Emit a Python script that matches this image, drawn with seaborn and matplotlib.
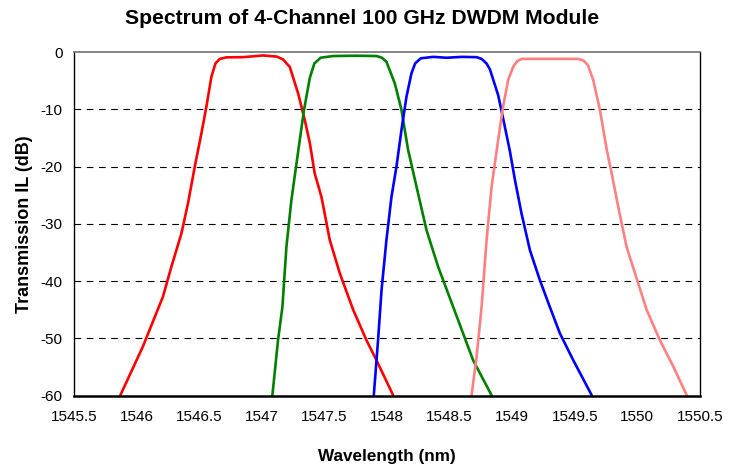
import pandas as pd
import seaborn as sns
import matplotlib.pyplot as plt

ch1_wl = [1545.871, 1546.051, 1546.211, 1546.278, 1546.358, 1546.411, 1546.465, 1546.518,
          1546.558, 1546.598, 1546.630, 1546.665, 1546.718, 1546.85, 1547.010, 1547.120,
          1547.170, 1547.224, 1547.290, 1547.344, 1547.384, 1547.423, 1547.477, 1547.543,
          1547.623, 1547.730, 1547.836, 1547.916, 1548.049]
ch1_il = [-59.9, -51.4, -42.7, -37.5, -31.7, -26.4, -20.0, -14.2,
          -9.5, -4.3, -2.0, -1.2, -0.93, -0.9, -0.6, -0.8,
          -1.3, -2.6, -7.2, -11.9, -15.9, -21.2, -25.3, -32.8,
          -38.6, -45.0, -50.3, -53.8, -59.9]

ch2_wl = [1547.085, 1547.130, 1547.165, 1547.197, 1547.237, 1547.290, 1547.336, 1547.384,
          1547.420, 1547.470, 1547.570, 1547.75, 1547.916, 1547.960, 1547.996, 1548.063,
          1548.116, 1548.169, 1548.236, 1548.316, 1548.409, 1548.529, 1548.688, 1548.835]
ch2_il = [-59.9, -50.3, -44.5, -34.0, -25.8, -17.5, -10.3, -4.5,
          -2.0, -1.0, -0.7, -0.65, -0.7, -1.0, -1.7, -5.5,
          -10.1, -17.1, -23.5, -31.1, -37.5, -44.5, -53.8, -59.9]

ch3_wl = [1547.895, 1547.929, 1547.957, 1547.996, 1548.036, 1548.076, 1548.116, 1548.156,
          1548.196, 1548.225, 1548.270, 1548.369, 1548.476, 1548.600, 1548.716, 1548.756,
          1548.795, 1548.822, 1548.888, 1548.928, 1548.982, 1549.022, 1549.075, 1549.142,
          1549.221, 1549.301, 1549.381, 1549.488, 1549.635]
ch3_il = [-59.9, -50.3, -41.5, -32.8, -25.3, -20.0, -13.6, -7.8,
          -3.7, -2.0, -1.1, -0.85, -1.0, -0.85, -0.9, -1.2,
          -2.0, -3.0, -7.5, -11.6, -17.3, -22.3, -28.2, -34.6,
          -39.8, -44.5, -49.1, -53.8, -59.9]

ch4_wl = [1548.676, 1548.716, 1548.756, 1548.796, 1548.836, 1548.888, 1548.928, 1548.968,
          1549.008, 1549.040, 1549.075, 1549.30, 1549.528, 1549.570, 1549.605, 1549.648,
          1549.701, 1549.756, 1549.795, 1549.847, 1549.914, 1549.981, 1550.074, 1550.180,
          1550.287, 1550.394]
ch4_il = [-59.9, -53.2, -44.5, -32.8, -23.5, -15.4, -9.5, -4.9,
          -2.6, -1.6, -1.2, -1.2, -1.2, -1.5, -2.3, -4.9,
          -10.1, -17.1, -21.2, -27.0, -34.0, -38.6, -45.0, -50.3,
          -54.9, -59.9]

channels = ["CH1", "CH2", "CH3", "CH4"]
colors = ["#ff0000", "#008000", "#0000ff", "#ff8080"]

frames = []
for name, wl, il in zip(channels, [ch1_wl, ch2_wl, ch3_wl, ch4_wl], [ch1_il, ch2_il, ch3_il, ch4_il]):
    frames.append(pd.DataFrame({"wl": wl, "il": il, "ch": name}))
df = pd.concat(frames, ignore_index=True)

sns.set_style("white")
plt.rcParams['font.family'] = ['Liberation Sans', 'DejaVu Sans']
plt.rcParams['axes.unicode_minus'] = False
plt.rcParams['text.color'] = 'black'
plt.rcParams['axes.labelcolor'] = 'black'
plt.rcParams['xtick.color'] = 'black'
plt.rcParams['ytick.color'] = 'black'

fig = plt.figure(figsize=(7.36, 4.72), dpi=100)
ax = fig.add_axes([0.1005, 0.1617, 0.8505, 0.7281])

sns.lineplot(data=df, x="wl", y="il", hue="ch", palette=colors, estimator=None,
             sort=False, linewidth=1.9, legend=False, ax=ax)

ax.set_xlim(1545.5, 1550.5)
ax.set_ylim(-60, 0)
ax.set_xticks([1545.5 + 0.5 * i for i in range(11)])
ax.set_xticklabels(["1545.5", "1546", "1546.5", "1547", "1547.5", "1548", "1548.5",
                    "1549", "1549.5", "1550", "1550.5"])
ax.set_yticks(range(-60, 1, 10))

for y in range(-50, 0, 10):
    ax.axhline(y, color="black", linestyle=(0, (6, 5)), linewidth=0.8, zorder=0)

for s in ["left", "bottom", "right"]:
    ax.spines[s].set_color("black")
ax.spines["left"].set_linewidth(1.0)
ax.spines["bottom"].set_linewidth(1.8)
ax.spines["right"].set_linewidth(1.0)
ax.spines["top"].set_color("#707070")
ax.spines["top"].set_linewidth(1.2)

ax.tick_params(axis="x", direction="in", length=4, width=0.8, color="#555555",
               labelsize=11, pad=10)
ax.tick_params(axis="y", direction="out", length=4, width=0.8, color="black",
               labelsize=11, pad=4)

ax.set_xlabel("Wavelength (nm)", fontsize=12.3, fontweight="bold", labelpad=18)
ax.set_ylabel("Transmission IL (dB)", fontsize=13, fontweight="bold", labelpad=6)
fig.text(362 / 736, 1 - 19 / 472, "Spectrum of 4-Channel 100 GHz DWDM Module",
         fontsize=15.2, fontweight="bold", ha="center", va="center")

fig.savefig("out.png", dpi=100)
